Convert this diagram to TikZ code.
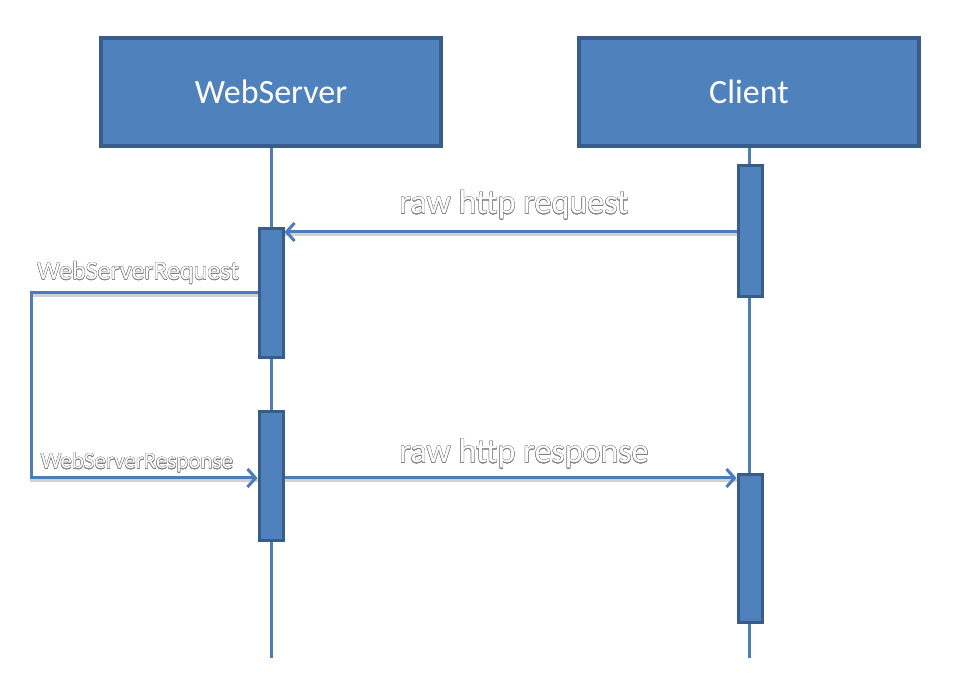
\documentclass[tikz,border=0pt]{standalone}
\usepackage{fontspec}
\setmainfont{Carlito}
\usepackage{contour}
\usetikzlibrary{arrows.meta}
\definecolor{boxfill}{RGB}{79,129,189}
\definecolor{boxline}{RGB}{56,93,138}
\definecolor{wire}{RGB}{74,126,187}
\contourlength{0.3pt}
\tikzset{
 actor/.style={draw=boxline, fill=boxfill, line width=3.5pt, minimum width=340pt, minimum height=108pt, text=white, font=\fontsize{34}{40}\selectfont, inner sep=0pt},
 bar/.style={draw=boxline, fill=boxfill, line width=3pt, minimum width=24pt, inner sep=0pt},
 life/.style={draw=wire, line width=3pt},
 msg/.style={draw=wire, line width=3pt, -{Straight Barb[length=8pt,width=18pt,line width=3pt]}},
 shade/.style={draw=black!18, line width=3pt, transform canvas={yshift=-3pt}},
 lbl/.style={font=\fontsize{34}{40}\selectfont, inner sep=0pt, text=white},
 small/.style={inner sep=0pt, text=white}
}
\begin{document}
\begin{tikzpicture}[x=1pt,y=-1pt]
\useasboundingbox (0,0) rectangle (962,684);
% actors
\node[actor] (ws) at (271,92) {WebServer};
\node[actor] (cl) at (749,92) {Client};
% lifeline ends
\coordinate (wsend) at (271,658);
\coordinate (clend) at (749,658);
\draw[life] (ws.south) -- (wsend);
\draw[life] (cl.south) -- (clend);
% activation bars
\node[bar, minimum height=131pt] (cb1) at (750,231.5) {};
\node[bar, minimum height=129pt] (wb1) at (271,293.5) {};
\node[bar, minimum height=129pt] (wb2) at (271,476.5) {};
\node[bar, minimum height=147pt] (cb2) at (750,548.5) {};
% helper coordinates
\coordinate (rq) at (0,232);
\coordinate (rs) at (0,478);
\coordinate (l1) at (31,293);
\coordinate (l2) at (31,478);
% shadows
\draw[shade] (cb1.west |- rq) -- (wb1.east |- rq);
\draw[shade] (wb2.east |- rs) -- (cb2.west |- rs);
\draw[shade] (wb1.west |- l1) -- (l1) -- (l2) -- (wb2.west |- l2);
% messages
\draw[msg] (cb1.west |- rq) -- (wb1.east |- rq);
\draw[msg] (wb2.east |- rs) -- (cb2.west |- rs);
\draw[msg] (wb1.west |- l1) -- (l1) -- (l2) -- (wb2.west |- l2);
% labels
\node[lbl] (rqlabel) at (514,205) {\contour{gray}{raw http request}};
\node[lbl] (rslabel) at (524,454) {\contour{gray}{raw http response}};
\node[small, font=\fontsize{26}{30}\selectfont] (wsrq) at (138,273) {\contour{gray}{WebServerRequest}};
\node[small, font=\fontsize{23}{28}\selectfont] (wsrs) at (137,463) {\contour{gray}{WebServerResponse}};
\end{tikzpicture}
\end{document}
